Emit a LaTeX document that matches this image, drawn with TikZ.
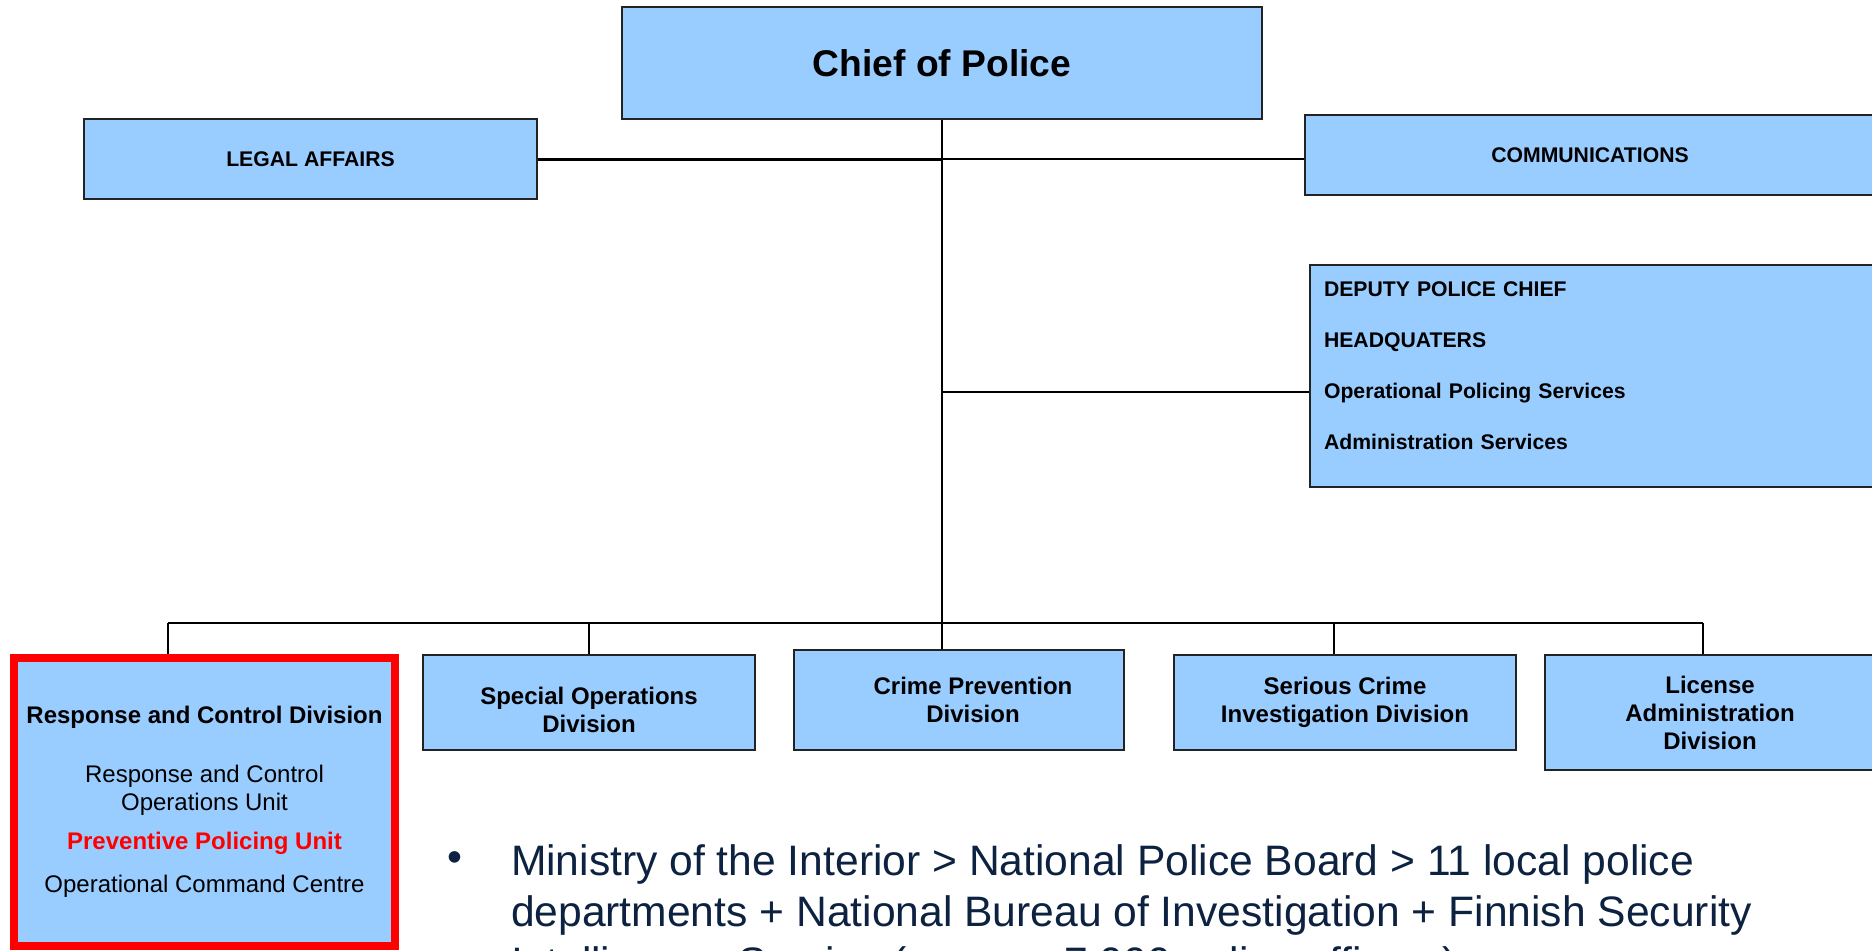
\documentclass[tikz,border=0pt]{standalone}
\usepackage{fontspec}
\setmainfont{Liberation Sans}
\definecolor{boxblue}{RGB}{153,204,255}
\definecolor{boxline}{RGB}{35,35,35}
\definecolor{navy}{RGB}{12,34,64}
\definecolor{alertred}{RGB}{255,0,0}
\usetikzlibrary{positioning}
\tikzset{
    orgbox/.style={
           rectangle,
           draw=boxline, line width=1pt,
           fill=boxblue,
           inner sep=2pt,
           align=center,
           },
    divbox/.style={
           orgbox,
           font=\bfseries\fontsize{12}{14}\selectfont,
           },
    staffbox/.style={
           orgbox,
           font=\bfseries\fontsize{10.6}{12.7}\selectfont,
           },
    focusbox/.style={
           orgbox,
           draw=alertred, line width=4pt,
           font=\fontsize{12}{14}\selectfont,
           },
}
\newcommand{\lbl}[1]{\textbf{#1}}
\newcommand{\hilite}[1]{\textcolor{alertred}{\textbf{#1}}}

\begin{document}
\begin{tikzpicture}[x=0.5pt, y=-0.5pt, line width=1pt]
  \useasboundingbox (0,0) rectangle (1872,950);
  \clip (0,0) rectangle (1872,950);
  \node[orgbox, minimum width=320pt, minimum height=56pt,
        font=\bfseries\fontsize{18.6}{22}\selectfont]            (P) at ( 942,  63) {Chief of Police};
  \node[staffbox, minimum width=226.5pt, minimum height=40pt]    (L) at ( 310.5,159) {LEGAL AFFAIRS};
  \node[staffbox, minimum width=285pt, minimum height=40pt]      (K) at (1590, 155) {COMMUNICATIONS};
  \node[staffbox, align=left, text width=271pt, inner xsep=7pt,
        minimum height=111pt, font=\bfseries\fontsize{10.6}{25.5}\selectfont]
                                                                 (D) at (1595, 376)
       {DEPUTY POLICE CHIEF\\ HEADQUATERS\\ Operational Policing Services\\ Administration Services\\[-15.5pt]\mbox{}};
  \node[focusbox, minimum width=190.5pt, minimum height=144pt]   (R) at ( 204.5,802)
       {\lbl{Response and Control Division}\\[15.5pt]
        Response and Control\\ Operations Unit\\[5.5pt]
        \hilite{Preventive Policing Unit}\\[7.5pt]
        Operational Command Centre};
  \node[divbox, minimum width=166pt, minimum height=47.5pt]      (S) at ( 589, 702.5) {\rule{0pt}{16pt}Special Operations\\ Division};
  \node[divbox, minimum width=165pt, minimum height=50pt]        (V) at ( 959, 700)
       {\hspace*{14pt}Crime Prevention\\ \hspace*{14pt}Division};
  \node[divbox, minimum width=171pt, minimum height=47.5pt]      (I) at (1345, 702.5) {Serious Crime\\ Investigation Division};
  \node[divbox, minimum width=165pt, minimum height=57.5pt]      (A) at (1710, 712.5) {License\\ Administration\\ Division};

  % bus between the chief and the divisions
  \coordinate (busL) at ( 168, 623);
  \coordinate (busR) at (1703, 623);
  \coordinate (busI) at (1334, 623);
  \draw (P.south) -- (P.south |- V.north);
  \draw[line width=1.5pt] (L.east) -- (P.south |- L.east);
  \draw[line width=0.8pt] (P.south |- L.east) -- (K.west |- L.east);
  \draw (P.south |- D.west) ++(0,16) -- ([yshift=-8pt]D.west);
  \draw (busL) -- (busR);
  \draw (busL) -- (busL |- R.north);
  \draw (S.north |- busL) -- (S.north);
  \draw (busI) -- (busI |- I.north);
  \draw (busR) -- (busR |- A.north);

  % note below the chart
  \node[text=navy, font=\fontsize{21.3}{25.5}\selectfont]       (dot) at ( 455, 862) {\textbullet};
  \node[text=navy, font=\fontsize{21.3}{25.5}\selectfont, align=left,
        inner sep=0pt, anchor=base west]                         (T) at ( 510, 977)
       {Ministry of the Interior > National Police Board > 11 local police\\
        departments + National Bureau of Investigation + Finnish Security\\
        Intelligence Service (approx. 7 000 police officers)};
\end{tikzpicture}
\end{document}
